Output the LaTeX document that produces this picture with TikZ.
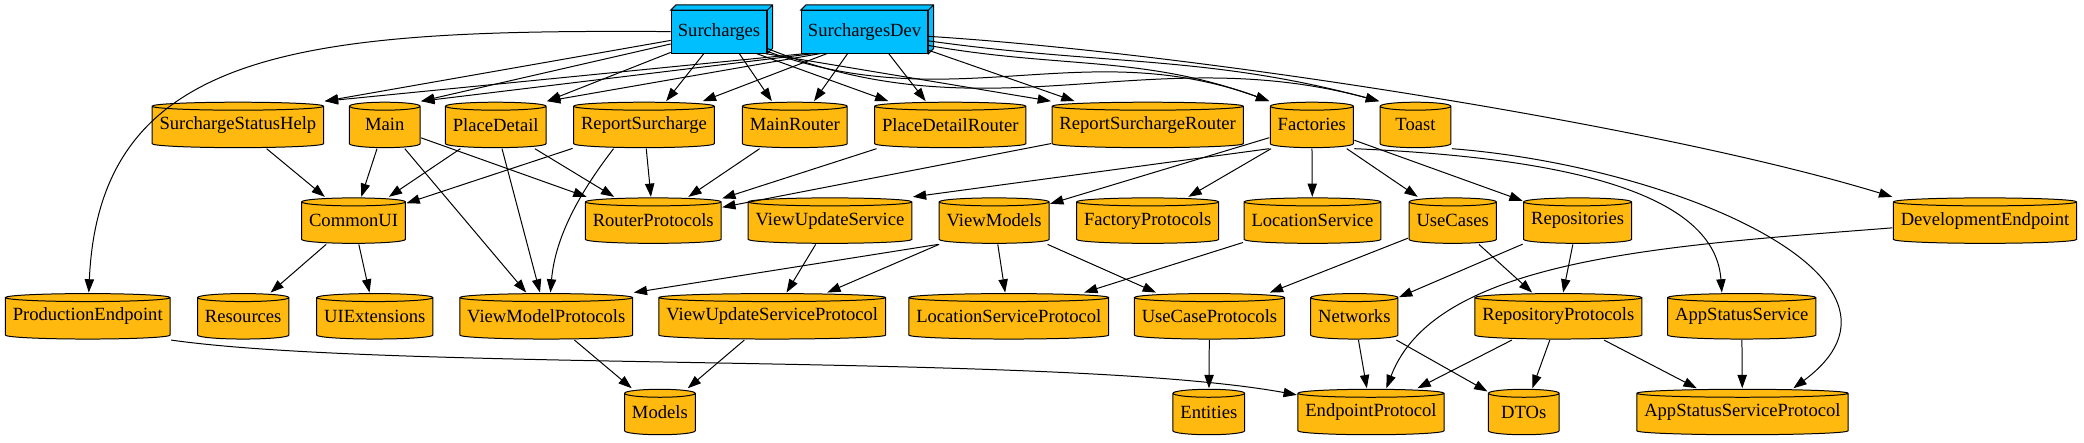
\documentclass[tikz,border=0pt]{standalone}
\usepackage{fontspec}
\setmainfont{Liberation Serif}
\usetikzlibrary{arrows.meta,calc}
\definecolor{pkgorange}{HTML}{FFB90F}
\definecolor{appblue}{HTML}{00BFFF}

\tikzset{
    pkg/.style={rectangle, minimum width=54pt, minimum height=35pt, inner xsep=6pt,
        path picture={
            \draw[fill=pkgorange]
                let \p1=(path picture bounding box.north west),
                    \p2=(path picture bounding box.south east),
                    \n1={(\x2-\x1)/2-0.4pt} in
                (\x1+0.4pt,\y1-3.4pt) -- (\x1+0.4pt,\y2+3.4pt)
                arc[start angle=180, end angle=360, x radius=\n1, y radius=3pt]
                -- (\x2-0.4pt,\y1-3.4pt)
                arc[start angle=0, end angle=180, x radius=\n1, y radius=3pt]
                -- cycle
                (\x1+0.4pt,\y1-3.4pt)
                arc[start angle=180, end angle=360, x radius=\n1, y radius=3pt];
        }},
    app/.style={rectangle, draw, fill=appblue, minimum height=32pt, inner xsep=5pt}
}

\begin{document}
\begin{tikzpicture}[x=1pt, y=-1pt, line width=0.75pt,
    >={Triangle[length=10pt,width=7pt]},
    every node/.style={font=\fontsize{14}{16}\selectfont}]
    \useasboundingbox (0,0) rectangle (1568,333.3);

    \node[app] (Surcharges) at (541,24) {Surcharges};
    \node[app] (SurchargesDev) at (650.5,24) {SurchargesDev};
    \foreach \b in {Surcharges,SurchargesDev}
        \draw[fill=appblue] (\b.north west) -- ++(4pt,4pt) -| ([shift={(4pt,4pt)}]\b.south east)
            -- (\b.south east) -- (\b.north east) -- cycle
            (\b.north east) -- ++(4pt,4pt);

    \node[pkg] (SurchargeStatusHelp) at (179,94) {SurchargeStatusHelp};
    \node[pkg] (Main) at (289.5,94) {Main};
    \node[pkg] (PlaceDetail) at (373,94) {PlaceDetail};
    \node[pkg] (ReportSurcharge) at (484.5,94) {ReportSurcharge};
    \node[pkg] (MainRouter) at (598,94) {MainRouter};
    \node[pkg] (PlaceDetailRouter) at (715,94) {PlaceDetailRouter};
    \node[pkg] (ReportSurchargeRouter) at (863.5,94) {ReportSurchargeRouter};
    \node[pkg] (Factories) at (987,94) {Factories};
    \node[pkg] (Toast) at (1065,94) {Toast};

    \node[pkg] (CommonUI) at (266,166) {CommonUI};
    \node[pkg] (RouterProtocols) at (491.5,166) {RouterProtocols};
    \node[pkg] (ViewUpdateService) at (624.5,166) {ViewUpdateService};
    \node[pkg] (ViewModels) at (748,166) {ViewModels};
    \node[pkg] (FactoryProtocols) at (863.5,166) {FactoryProtocols};
    \node[pkg] (LocationService) at (987.5,166) {LocationService};
    \node[pkg] (UseCases) at (1093,166) {UseCases};
    \node[pkg] (Repositories) at (1187,166) {Repositories};
    \node[pkg] (DevelopmentEndpoint) at (1493.5,166) {DevelopmentEndpoint};

    \node[pkg] (ProductionEndpoint) at (66,238) {ProductionEndpoint};
    \node[pkg] (Resources) at (183,238) {Resources};
    \node[pkg] (UIExtensions) at (282,238) {UIExtensions};
    \node[pkg] (ViewModelProtocols) at (411,238) {ViewModelProtocols};
    \node[pkg] (ViewUpdateServiceProtocol) at (581,238) {ViewUpdateServiceProtocol};
    \node[pkg] (LocationServiceProtocol) at (759,238) {LocationServiceProtocol};
    \node[pkg] (UseCaseProtocols) at (910,238) {UseCaseProtocols};
    \node[pkg] (Networks) at (1019,238) {Networks};
    \node[pkg] (RepositoryProtocols) at (1172.5,238) {RepositoryProtocols};
    \node[pkg] (AppStatusService) at (1310.5,238) {AppStatusService};

    \node[pkg] (Models) at (496.5,310) {Models};
    \node[pkg] (Entities) at (909.5,310) {Entities};
    \node[pkg] (EndpointProtocol) at (1031.5,310) {EndpointProtocol};
    \node[pkg] (DTOs) at (1146.5,310) {DTOs};
    \node[pkg] (AppStatusServiceProtocol) at (1311,310) {AppStatusServiceProtocol};

    \draw[->] (Surcharges) .. controls (230,22) and (75,35) .. (ProductionEndpoint);
    \draw[->] (Surcharges.190) -- (SurchargeStatusHelp.north east);
    \draw[->] (Surcharges.194) -- (Main.north east);
    \draw[->] (Surcharges.203) -- (PlaceDetail.north east);
    \draw[->] (Surcharges.235) -- (ReportSurcharge.47);
    \draw[->] (Surcharges.313) -- (MainRouter.134);
    \draw[->] (Surcharges.330) -- (PlaceDetailRouter.159);
    \draw[->] (Surcharges.335) -- (ReportSurchargeRouter.north west);
    \draw[->] (Surcharges.338) to[out=-20,in=160] (Factories.north west);
    \draw[->] (Surcharges.341) to[out=-22,in=165] (Toast.north west);

    \draw[->] (SurchargesDev.200) -- (SurchargeStatusHelp.north east);
    \draw[->] (SurchargesDev.203) -- (Main.north east);
    \draw[->] (SurchargesDev.206) -- (PlaceDetail.north east);
    \draw[->] (SurchargesDev.210) -- (ReportSurcharge.22);
    \draw[->] (SurchargesDev.232) -- (MainRouter.51);
    \draw[->] (SurchargesDev.318) -- (PlaceDetailRouter.136);
    \draw[->] (SurchargesDev.344) -- (ReportSurchargeRouter.162);
    \draw[->] (SurchargesDev.348) to[out=-10,in=160] (Factories.north west);
    \draw[->] (SurchargesDev.352) to[out=-8,in=165] (Toast.north west);
    \draw[->] (SurchargesDev.356) .. controls (900,40) and (1250,95) .. (DevelopmentEndpoint.north west);

    \draw[->] (SurchargeStatusHelp) -- (CommonUI);
    \draw[->] (Main) -- (CommonUI);
    \draw[->] (Main) -- (ViewModelProtocols);
    \draw[->] (Main) -- (RouterProtocols);
    \draw[->] (PlaceDetail) -- (CommonUI);
    \draw[->] (PlaceDetail) -- (ViewModelProtocols);
    \draw[->] (PlaceDetail) -- (RouterProtocols);
    \draw[->] (ReportSurcharge) -- (CommonUI);
    \draw[->] (ReportSurcharge) -- (RouterProtocols);
    \draw[->] (ReportSurcharge.218) .. controls (440,140) and (418,175) .. (ViewModelProtocols.80);
    \draw[->] (MainRouter) -- (RouterProtocols);
    \draw[->] (PlaceDetailRouter) -- (RouterProtocols);
    \draw[->] (ReportSurchargeRouter) -- (RouterProtocols);
    \draw[->] (Factories.south west) -- (ViewUpdateService.north east);
    \draw[->] (Factories) -- (ViewModels);
    \draw[->] (Factories) -- (FactoryProtocols);
    \draw[->] (Factories) -- (LocationService);
    \draw[->] (Factories) -- (UseCases);
    \draw[->] (Factories) -- (Repositories);
    \draw[->] (Factories.south east) .. controls (1160,118) and (1290,140) .. (AppStatusService.130);
    \draw[->] (Toast.south east) .. controls (1260,125) and (1460,210) .. (AppStatusServiceProtocol.25);

    \draw[->] (CommonUI) -- (Resources);
    \draw[->] (CommonUI) -- (UIExtensions);
    \draw[->] (ViewUpdateService) -- (ViewUpdateServiceProtocol);
    \draw[->] (ViewModels.south west) -- (ViewModelProtocols.north east);
    \draw[->] (ViewModels) -- (ViewUpdateServiceProtocol);
    \draw[->] (ViewModels) -- (LocationServiceProtocol);
    \draw[->] (ViewModels) -- (UseCaseProtocols);
    \draw[->] (LocationService) -- (LocationServiceProtocol);
    \draw[->] (UseCases) -- (UseCaseProtocols);
    \draw[->] (UseCases) -- (RepositoryProtocols);
    \draw[->] (Repositories) -- (Networks);
    \draw[->] (Repositories) -- (RepositoryProtocols);
    \draw[->] (DevelopmentEndpoint) .. controls (1250,185) and (1080,195) .. (EndpointProtocol.57);

    \draw[->] (ViewModelProtocols) -- (Models);
    \draw[->] (ViewUpdateServiceProtocol) -- (Models);
    \draw[->] (UseCaseProtocols) -- (Entities);
    \draw[->] (Networks) -- (EndpointProtocol);
    \draw[->] (Networks) -- (DTOs);
    \draw[->] (RepositoryProtocols) -- (EndpointProtocol);
    \draw[->] (RepositoryProtocols) -- (DTOs);
    \draw[->] (RepositoryProtocols) -- (AppStatusServiceProtocol);
    \draw[->] (AppStatusService) -- (AppStatusServiceProtocol);
    \draw[->] (ProductionEndpoint.south east) .. controls (300,280) and (800,265) .. (EndpointProtocol.167);
\end{tikzpicture}
\end{document}
